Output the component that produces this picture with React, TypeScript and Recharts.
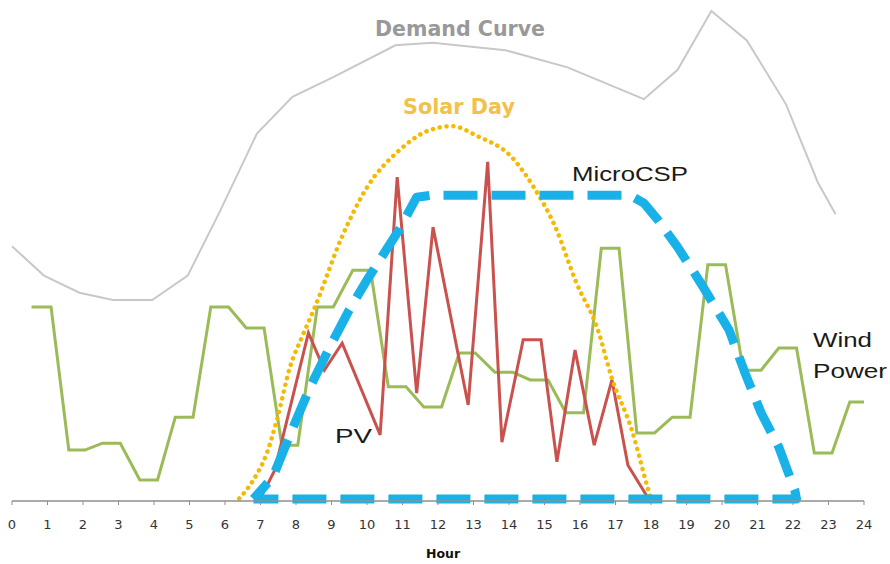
import React from 'react';
import { LineChart, Line, XAxis, YAxis } from 'recharts';

// hour ticks on the axis
const hourTicks = [0, 1, 2, 3, 4, 5, 6, 7, 8, 9, 10, 11, 12, 13, 14, 15, 16, 17, 18, 19, 20, 21, 22, 23, 24];

// demand curve (grey)
const demandHours = [0, 0.9, 1.9, 2.85, 3.95, 4.95, 5.85, 6.9, 7.9, 9.05, 10.8, 11.85, 13.9, 15.65, 17.8, 18.75, 19.7, 20.7, 21.8, 22.7, 23.2];
const demandValues = [52, 46, 42.5, 41, 41, 46, 59, 75, 82.5, 86.5, 93, 93.5, 92, 88.5, 82, 88, 100, 94, 81, 65, 58.5];

// solar day (dotted)
const solarHours = [6.4, 6.8, 7.18, 7.46, 7.83, 8.17, 8.5, 9.3, 10, 10.9, 11.7, 12.4, 13.1, 14.1, 14.7, 15.3, 15.9, 16.5, 16.9, 17.46, 17.9, 18.0];
const solarValues = [0.5, 4.3, 9.8, 16.5, 27.3, 33.5, 39, 54, 64, 71.5, 75.5, 76.5, 74.5, 70, 64, 56, 44.5, 35, 25, 14.5, 2.9, 0.5];

// MicroCSP output: along the bottom first, then back over the top
const cspHours = [6.8, 22.1, 22.05, 21.6, 21.1, 20.65, 20.2, 19.4, 18.75, 18.2, 17.8, 17.4, 11.8, 11.4, 10.9, 10.0, 9.5, 8.95, 8.4, 7.8, 7.35, 6.8];
const cspValues = [0.4, 0.4, 2.2, 11, 18, 26.1, 34.9, 44.5, 51.8, 57.3, 60.8, 62.4, 62.4, 62, 55.3, 45.1, 39, 31.4, 23.3, 13, 4.9, 0.4];

// PV (red)
const pvHours = [7.0, 7.4, 8.35, 8.8, 9.3, 10.37, 10.85, 11.4, 11.86, 12.85, 13.4, 13.8, 14.4, 14.9, 15.35, 15.86, 16.4, 16.9, 17.35, 17.9];
const pvValues = [0.5, 6.3, 34.3, 26.7, 32.2, 13.5, 66.1, 22, 55.9, 19.6, 69.2, 12, 32.9, 32.9, 8, 30.8, 11.4, 24.7, 7.3, 0.8];

// wind power (green)
const windHours = [0.55, 1.1, 1.6, 2.05, 2.55, 3.05, 3.6, 4.1, 4.6, 5.1, 5.6, 6.1, 6.6, 7.1, 7.6, 8.05, 8.6, 9.05, 9.6, 10.1, 10.6, 11.1, 11.6, 12.1, 12.6, 13.05, 13.6, 14.1, 14.6, 15.1, 15.6, 16.1, 16.6, 17.1, 17.6, 18.1, 18.6, 19.1, 19.6, 20.1, 20.6, 21.1, 21.6, 22.1, 22.6, 23.1, 23.6, 24];
const windValues = [39.6, 39.6, 10.4, 10.4, 11.8, 11.8, 4.3, 4.3, 17.1, 17.1, 39.6, 39.6, 35.3, 35.3, 11.4, 11.4, 39.6, 39.6, 47.1, 47.1, 23.3, 23.3, 19.2, 19.2, 30.2, 30.2, 26.3, 26.3, 24.7, 24.7, 18, 18, 51.6, 51.6, 13.9, 13.9, 17.1, 17.1, 48.2, 48.2, 26.7, 26.7, 31.2, 31.2, 9.8, 9.8, 20.2, 20.2];

const toPoints = (hours: number[], values: number[]) => hours.map((h, i) => ({ h, v: values[i] }));

const demandData = toPoints(demandHours, demandValues);
const solarData = toPoints(solarHours, solarValues);
const cspData = toPoints(cspHours, cspValues);
const pvData = toPoints(pvHours, pvValues);
const windData = toPoints(windHours, windValues);

const sansBold = 'DejaVu Sans, Verdana, sans-serif';
const arial = 'Liberation Sans, Arial, sans-serif';

export default function App() {
  return (
    <div style={{ position: 'absolute', left: 0, top: 0, width: 890, height: 564, background: '#fff' }}>
      <LineChart width={890} height={564} margin={{ top: 11, right: 26, left: 12, bottom: 0 }}>
        <XAxis
          dataKey="h"
          type="number"
          domain={[0, 24]}
          ticks={hourTicks}
          interval={0}
          height={63}
          axisLine={{ stroke: '#8f8f8f', strokeWidth: 1.5 }}
          tickLine={{ stroke: '#8f8f8f' }}
          tickSize={4}
          tickMargin={15}
          tick={{ fontSize: 13, fill: '#333', fontFamily: sansBold }}
        />
        <YAxis hide type="number" domain={[0, 100]} />
        <Line data={demandData} dataKey="v" type="linear" stroke="#c8c8c8" strokeWidth={2}
          dot={false} activeDot={false} isAnimationActive={false} />
        <Line data={windData} dataKey="v" type="linear" stroke="#9bbb59" strokeWidth={3}
          dot={false} activeDot={false} isAnimationActive={false} />
        <Line data={pvData} dataKey="v" type="linear" stroke="#c9524e" strokeWidth={3}
          dot={false} activeDot={false} isAnimationActive={false} />
        <Line data={solarData} dataKey="v" type="monotone" stroke="#f5ba00" strokeWidth={4.5}
          strokeDasharray="0.1 6.8" strokeLinecap="round"
          dot={false} activeDot={false} isAnimationActive={false} />
        <Line data={cspData} dataKey="v" type="linear" stroke="#19b2e8" strokeWidth={9}
          strokeDasharray="34 14" strokeDashoffset={9} strokeLinejoin="round"
          dot={false} activeDot={false} isAnimationActive={false} />
      </LineChart>
      <svg width={890} height={564} style={{ position: 'absolute', left: 0, top: 0, pointerEvents: 'none' }}>
        <text x={375} y={36} fontFamily={sansBold} fontWeight="bold" fontSize={22} fill="#999"
          textLength={170} lengthAdjust="spacingAndGlyphs">Demand Curve</text>
        <text x={403} y={114} fontFamily={sansBold} fontWeight="bold" fontSize={22} fill="#f2c14a"
          textLength={112} lengthAdjust="spacingAndGlyphs">Solar Day</text>
        <text x={572} y={181} fontFamily={arial} fontSize={19.5} fill="#1a1a1a"
          textLength={116} lengthAdjust="spacingAndGlyphs">MicroCSP</text>
        <text x={335} y={443} fontFamily={arial} fontSize={21} fill="#1a1a1a"
          textLength={37} lengthAdjust="spacingAndGlyphs">PV</text>
        <text x={813} y={347} fontFamily={arial} fontSize={21} fill="#1a1a1a"
          textLength={59} lengthAdjust="spacingAndGlyphs">Wind</text>
        <text x={813} y={378} fontFamily={arial} fontSize={21} fill="#1a1a1a"
          textLength={74} lengthAdjust="spacingAndGlyphs">Power</text>
        <text x={443} y={558} textAnchor="middle" fontFamily={sansBold} fontWeight="bold" fontSize={12.5} fill="#111">Hour</text>
      </svg>
    </div>
  );
}
